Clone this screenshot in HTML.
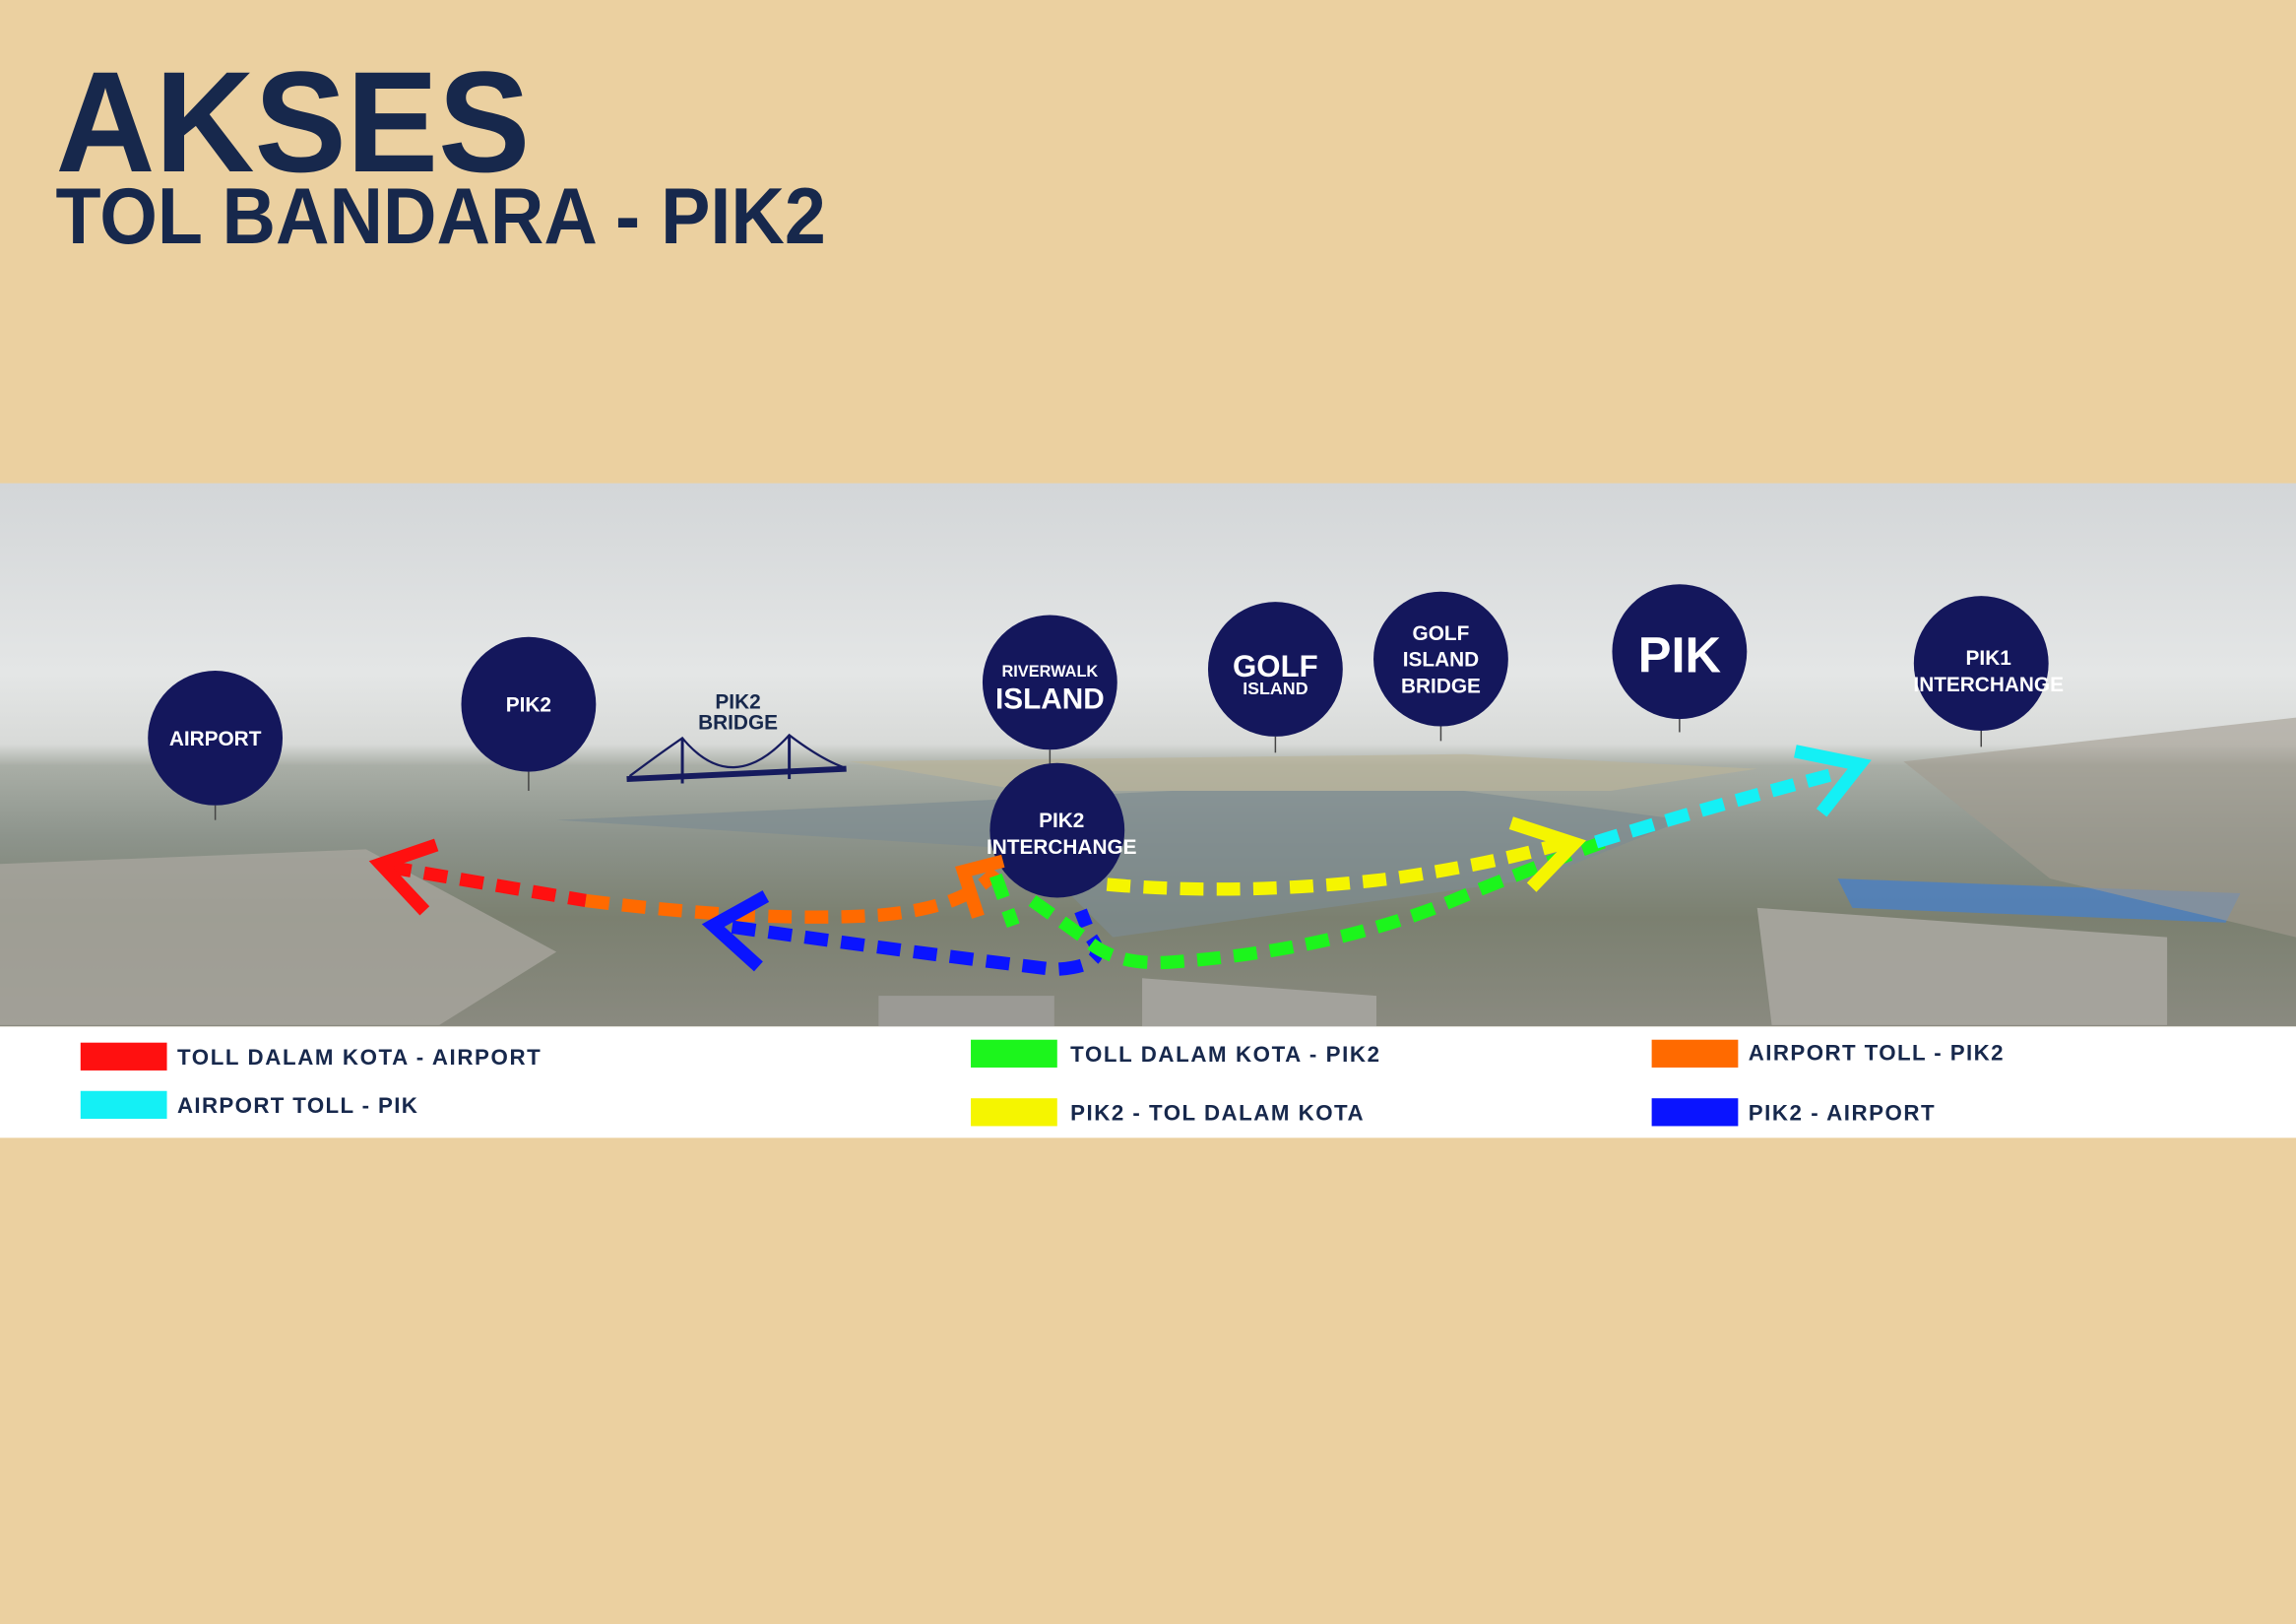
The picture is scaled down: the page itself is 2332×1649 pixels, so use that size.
<!DOCTYPE html>
<html><head><meta charset="utf-8"><style>
html,body{margin:0;padding:0;background:#ebd0a0;}
svg{display:block;}
text{font-family:"Liberation Sans",sans-serif;font-weight:bold;}
</style></head><body>
<svg width="2332" height="1649" viewBox="0 0 1568 1109" preserveAspectRatio="none" xmlns="http://www.w3.org/2000/svg">
<defs>
<linearGradient id="sky" x1="0" y1="0" x2="0" y2="1">
<stop offset="0" stop-color="#d3d6d8"/>
<stop offset="0.35" stop-color="#e4e6e6"/>
<stop offset="0.48" stop-color="#d8dad8"/>
<stop offset="0.52" stop-color="#a9aea6"/>
<stop offset="0.65" stop-color="#8d948c"/>
<stop offset="0.8" stop-color="#7b8070"/>
<stop offset="1" stop-color="#8a8a80"/>
</linearGradient>
</defs>
<rect width="1568" height="1109" fill="#ebd0a0"/>
<text x="38" y="117" font-size="98" fill="#17284c" textLength="324" lengthAdjust="spacingAndGlyphs">AKSES</text>
<text x="38" y="166" font-size="54" fill="#17284c" textLength="526" lengthAdjust="spacingAndGlyphs">TOL BANDARA - PIK2</text>
<!-- photo -->
<rect x="0" y="330" width="1568" height="371" fill="url(#sky)"/>
<polygon points="380,560 700,580 760,640 1050,600 1150,560 1000,540 800,540 600,550" fill="#7e8c92" opacity="0.7"/>
<polygon points="580,520 1000,515 1200,525 1100,540 700,540" fill="#b9b49a" opacity="0.7"/>
<polygon points="0,590 250,580 380,650 300,700 0,700" fill="#a8a59e" opacity="0.8"/>
<polygon points="1200,620 1480,640 1480,700 1210,700" fill="#a8a6a0" opacity="0.9"/>
<polygon points="1255,600 1530,610 1520,630 1265,620" fill="#4a7fc4" opacity="0.8"/>
<polygon points="1300,520 1568,490 1568,640 1400,600" fill="#a19b90" opacity="0.6"/>
<polygon points="600,680 720,680 720,701 600,701" fill="#9b9a95"/>
<polygon points="780,668 940,680 940,701 780,701" fill="#a3a29c"/>
<!-- connector sticks -->
<g stroke="#444" stroke-width="1">
<line x1="147" y1="550" x2="147" y2="560"/><line x1="361" y1="527" x2="361" y2="540"/>
<line x1="717" y1="512" x2="717" y2="522"/><line x1="871" y1="503" x2="871" y2="514"/>
<line x1="984" y1="496" x2="984" y2="506"/><line x1="1147" y1="491" x2="1147" y2="500"/>
<line x1="1353" y1="499" x2="1353" y2="510"/>
</g>
<!-- bridge -->
<g stroke="#161b5e" fill="none">
<line x1="428" y1="532" x2="578" y2="525" stroke-width="4"/>
<line x1="466" y1="504" x2="466" y2="535" stroke-width="2"/>
<line x1="539" y1="502" x2="539" y2="532" stroke-width="2"/>
<path d="M430 530 Q450 515 466 504 Q500 545 539 502 Q560 518 576 524" stroke-width="1.5"/>
</g>
<!-- circles -->
<g fill="#14175c">
<circle cx="147" cy="504" r="46"/><circle cx="361" cy="481" r="46"/>
<circle cx="717" cy="466" r="46"/><circle cx="871" cy="457" r="46"/>
<circle cx="984" cy="450" r="46"/><circle cx="1147" cy="445" r="46"/>
<circle cx="1353" cy="453" r="46"/><circle cx="722" cy="567" r="46"/>
</g>
<g fill="#fff" text-anchor="middle" font-size="14">
<text x="147" y="509">AIRPORT</text>
<text x="361" y="486">PIK2</text>
<text x="504" y="484" fill="#17284c">PIK2</text>
<text x="504" y="498" fill="#17284c">BRIDGE</text>
<text x="717" y="462" font-size="11">RIVERWALK</text>
<text x="717" y="484" font-size="20">ISLAND</text>
<text x="871" y="462" font-size="21">GOLF</text>
<text x="871" y="474" font-size="12">ISLAND</text>
<text x="984" y="437">GOLF</text><text x="984" y="455">ISLAND</text><text x="984" y="473">BRIDGE</text>
<text x="1147" y="459" font-size="34">PIK</text>
<text x="1358" y="454">PIK1</text><text x="1358" y="472">INTERCHANGE</text>
<text x="725" y="565">PIK2</text><text x="725" y="583">INTERCHANGE</text>
</g>
<!-- routes -->
<g fill="none" stroke-width="9" stroke-dasharray="16,9">
<path d="M265 592 L400 615" stroke="#ff1010"/>
<path d="M400 615 Q520 630 600 625 Q660 620 680 595" stroke="#ff6a00"/>
<path d="M500 633 Q620 650 720 662 Q760 660 745 640 L738 622" stroke="#0a14ff"/>
<path d="M756 604 Q850 612 950 600 Q1020 590 1070 575" stroke="#f5f500"/>
<path d="M680 598 L692 632 M705 615 L740 640 Q760 660 800 657 Q900 650 980 620 Q1040 595 1095 575" stroke="#1cf51c"/>
<path d="M1090 575 Q1170 550 1255 528" stroke="#14f0f5"/>
</g>
<g fill="none" stroke-width="9">
<polyline points="298,577 260,590 290,622" stroke="#ff1010"/>
<polyline points="523,612 487,632 518,660" stroke="#0a14ff"/>
<polyline points="1032,562 1075,576 1046,606" stroke="#f5f500"/>
<polyline points="1226,513 1270,522 1244,555" stroke="#14f0f5"/>
<polyline points="668,626 658,595 685,588" stroke="#ff6a00"/>
</g>
<!-- legend -->
<rect x="0" y="701" width="1568" height="76" fill="#fff"/>
<rect x="55" y="712" width="59" height="19" fill="#ff1010"/>
<rect x="55" y="745" width="59" height="19" fill="#14f0f5"/>
<rect x="663" y="710" width="59" height="19" fill="#1cf51c"/>
<rect x="663" y="750" width="59" height="19" fill="#f5f500"/>
<rect x="1128" y="710" width="59" height="19" fill="#ff6a00"/>
<rect x="1128" y="750" width="59" height="19" fill="#0a14ff"/>
<g font-size="15" fill="#17284c">
<text x="121" y="727" textLength="248">TOLL DALAM KOTA - AIRPORT</text>
<text x="121" y="760" textLength="164">AIRPORT TOLL - PIK</text>
<text x="731" y="725" textLength="211">TOLL DALAM KOTA - PIK2</text>
<text x="731" y="765" textLength="200">PIK2 - TOL DALAM KOTA</text>
<text x="1194" y="724" textLength="174">AIRPORT TOLL - PIK2</text>
<text x="1194" y="765" textLength="127">PIK2 - AIRPORT</text>
</g>
</svg>
</body></html>
